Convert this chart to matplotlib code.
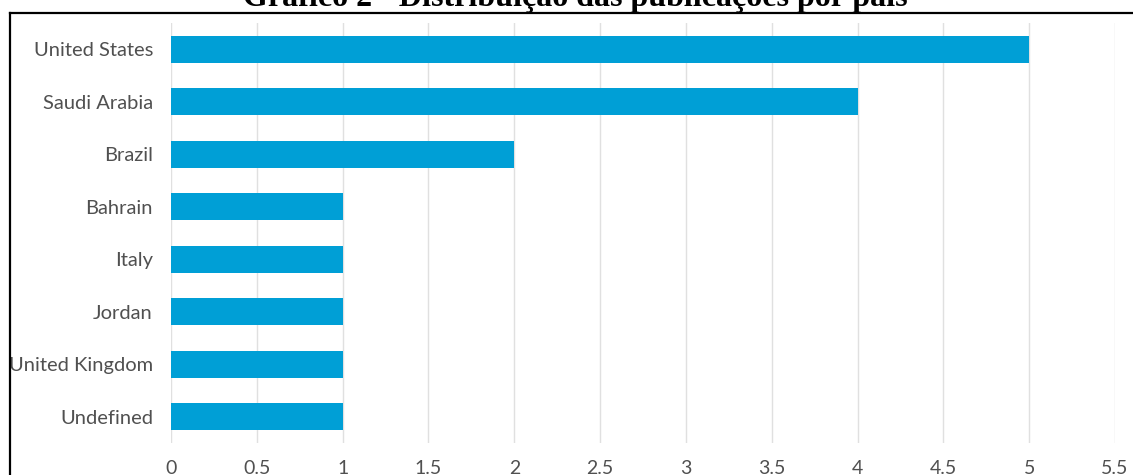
import matplotlib.pyplot as plt
from matplotlib.lines import Line2D

countries = ['United States', 'Saudi Arabia', 'Brazil', 'Bahrain', 'Italy',
             'Jordan', 'United Kingdom', 'Undefined']
counts = [5, 4, 2, 1, 1, 1, 1, 1]
xticks = [0, 0.5, 1, 1.5, 2, 2.5, 3, 3.5, 4, 4.5, 5, 5.5]
xticklabels = ['0', '0.5', '1', '1.5', '2', '2.5', '3', '3.5', '4', '4.5', '5', '5.5']
title = 'Gráfico 2 - Distribuição das publicações por país'

fig = plt.figure(figsize=(11.33, 4.75), dpi=100)
ax = fig.add_axes([171 / 1133, 1 - 443 / 475, (1115 - 171) / 1133, (443 - 23) / 475])

ypos = list(range(len(countries)))
ax.barh(ypos, counts, height=0.52, color='#009FD6', zorder=3)
ax.set_ylim(len(countries) - 0.5, -0.5)
ax.set_xlim(0, 5.5)
ax.set_yticks(ypos)
ax.set_yticklabels(countries)
ax.set_xticks(xticks)
ax.set_xticklabels(xticklabels)
ax.tick_params(axis='both', length=0, labelcolor='#505050')
ax.tick_params(axis='y', pad=13, labelsize=14.5)
ax.tick_params(axis='x', pad=12, labelsize=14)
for lab in ax.get_xticklabels() + ax.get_yticklabels():
    lab.set_family('Lato')
ax.grid(axis='x', color='#e0e0e0', linewidth=1.0, zorder=0)
for s in ax.spines.values():
    s.set_visible(False)

# page frame around the chart
fig.add_artist(Line2D([9.5 / 1133, 1], [1 - 12.5 / 475, 1 - 12.5 / 475], color='black', lw=1.6))
fig.add_artist(Line2D([9.5 / 1133, 9.5 / 1133], [0, 1 - 12.5 / 475], color='black', lw=1.6))

fig.text(575 / 1133, 1 - 6 / 475, title, ha='center', va='baseline',
         family='Liberation Serif', fontweight='bold', fontsize=23)

fig.savefig('out.png', dpi=100)
